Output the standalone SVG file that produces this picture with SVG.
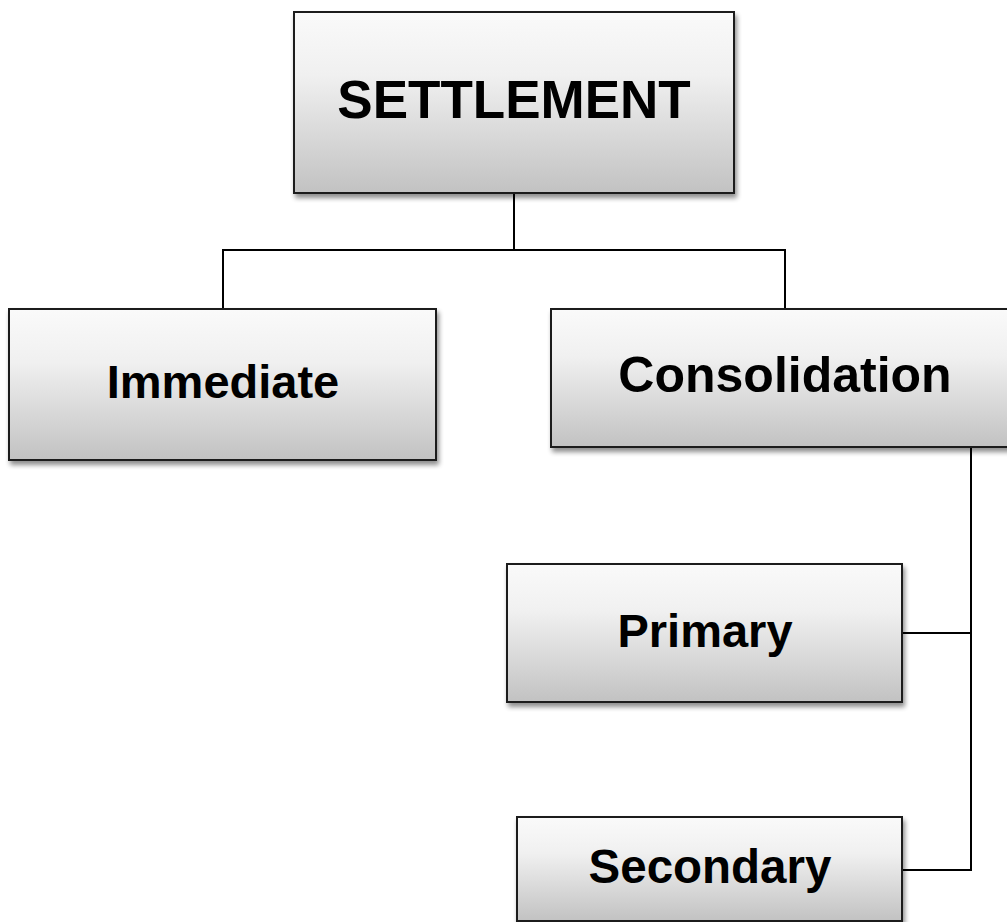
<svg xmlns="http://www.w3.org/2000/svg" width="1007" height="922" viewBox="0 0 1007 922">
<defs>
<linearGradient id="g" x1="0" y1="0" x2="0" y2="1">
<stop offset="0" stop-color="#fafafa"/>
<stop offset="0.35" stop-color="#f0f0f0"/>
<stop offset="1" stop-color="#c2c2c2"/>
</linearGradient>
<filter id="sh" x="-10%" y="-10%" width="125%" height="130%">
<feGaussianBlur in="SourceAlpha" stdDeviation="2.5"/>
<feOffset dx="2" dy="4" result="b"/>
<feComponentTransfer><feFuncA type="linear" slope="0.45"/></feComponentTransfer>
<feMerge><feMergeNode/><feMergeNode in="SourceGraphic"/></feMerge>
</filter>
</defs>
<style>
.box{fill:url(#g);stroke:#1a1a1a;stroke-width:2;filter:url(#sh)}
.t{font-family:"Liberation Sans",Arial,sans-serif;font-weight:bold;fill:#000;text-anchor:middle}
.c{fill:none;stroke:#000;stroke-width:2}
</style>
<rect width="1007" height="922" fill="#fff"/>
<g id="connectors">
<polyline class="c" points="514,193 514,250"/>
<polyline class="c" points="223,309 223,250 785,250 785,309"/>
<polyline class="c" points="971,447 971,870 902,870"/>
<polyline class="c" points="902,633 971,633"/>
</g>
<g id="settlement">
<rect class="box" x="294" y="12" width="440" height="181"/>
<text class="t" x="514" y="118" font-size="53">SETTLEMENT</text>
</g>
<g id="immediate">
<rect class="box" x="9" y="309" width="427" height="151"/>
<text class="t" x="223" y="398" font-size="47">Immediate</text>
</g>
<g id="consolidation">
<rect class="box" x="551" y="309" width="468" height="138"/>
<text class="t" x="785" y="392" font-size="50">Consolidation</text>
</g>
<g id="primary">
<rect class="box" x="507" y="564" width="395" height="138"/>
<text class="t" x="705" y="647" font-size="47">Primary</text>
</g>
<g id="secondary">
<rect class="box" x="517" y="817" width="385" height="104"/>
<text class="t" x="710" y="883" font-size="47.5">Secondary</text>
</g>
</svg>
